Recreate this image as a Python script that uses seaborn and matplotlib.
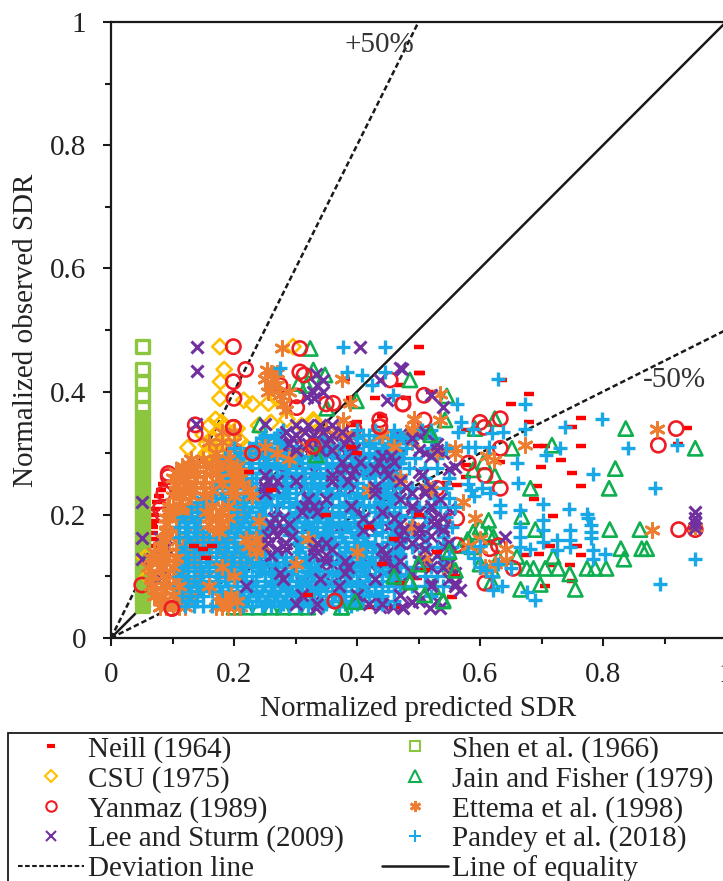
import matplotlib
matplotlib.use("Agg")
import matplotlib.pyplot as plt
from matplotlib.lines import Line2D
from matplotlib.patches import Rectangle
import numpy as np
import pandas as pd
import seaborn as sns

sns.set_theme(style="white")
plt.rcParams['font.family'] = ['Liberation Serif', 'DejaVu Serif']

# Puntos sueltos
neill_x = [.500, .503, .635, .679, .651, .679, .765, .750, .937, .695, .705, .765, .731, .699, .750, .765, .692, .688, .719, .757, .714, .675, .696, .765, .746, .716, .749, .706, .922, .546, .562, .554, .578, .578, .632, .578, .497, .38, .39, .41, .42, .46, .47, .30, .35, .40, .44, .48, .085, .075, .07, .068, .07, .075, .08, .09, .072, .095, .10, .11, .39, .43, .47, .50, .52, .068, .07, .072, .075, .078, .082, .066]
neill_y = [.473, .431, .419, .396, .380, .351, .357, .342, .341, .311, .311, .311, .289, .278, .268, .246, .246, .225, .198, .149, .149, .134, .137, .134, .118, .118, .093, .085, .315, .252, .249, .066, .281, .262, .285, .338, .097, .42, .39, .05, .05, .05, .05, .28, .30, .35, .36, .39, .25, .22, .20, .18, .16, .14, .12, .10, .19, .05, .05, .05, .345, .39, .41, .43, .40, .17, .15, .21, .13, .23, .24, .185]
neill_top_x = [.135, .15, .155, .165, .225, .26, .39, .40, .42, .46, .44, .47, .51, .53, .56, .50, .32, .35]
neill_top_y = [.15, .145, .13, .15, .27, .24, .31, .30, .18, .16, .12, .09, .11, .14, .10, .20, .07, .20]

shen_x = [.0515, .0515, .0515, .0515, .0515]
shen_y = [.473, .436, .416, .393, .374]
shen_rows_y = [.358, .352, .346, .34, .334, .328, .322, .316, .31, .304, .298, .292, .286, .28, .274, .268, .262, .256, .25, .244, .238, .232, .226, .22, .214, .208, .202, .196, .19, .184, .178, .172, .166, .16, .154, .148, .142, .136, .13, .124, .118, .112, .106, .10, .094, .088, .082, .076, .07, .064, .058, .052]
shen_rows_x = [[.0515]] * 52

csu_x = [.177, .184, .178, .177, .216, .230, .256, .269, .125, .177, .286, .329, .172, .296, .155, .165, .175, .185, .16, .17, .18, .19, .20, .21, .22, .23, .19, .21, .055, .06, .24, .26, .31, .33, .15, .16, .17, .18, .155, .165, .175, .19, .205]
csu_y = [.473, .436, .416, .389, .386, .380, .381, .389, .309, .337, .355, .354, .300, .473, .315, .325, .335, .34, .30, .29, .315, .325, .33, .32, .31, .30, .285, .29, .13, .10, .345, .35, .345, .35, .33, .345, .355, .35, .30, .31, .30, .31, .34]

jain_x = [.486, .546, .543, .519, .592, .624, .652, .717, .837, .950, .820, .810, .682, .606, .589, .624, .811, .860, .690, .668, .829, .863, .871, .834, .676, .687, .706, .727, .746, .774, .787, .805, .719, .698, .666, .755, .614, .614, .589, .622, .660, .540, .484, .524, .587, .619, .324, .305, .318, .329, .348, .399, .351, .242, .334, .486, .397, .375, .410, .104, .20, .22, .24, .26, .28, .30, .32, .55, .57, .60, .63, .60, .58, .62]
jain_y = [.419, .393, .354, .335, .340, .356, .308, .313, .340, .308, .275, .243, .243, .286, .273, .264, .176, .176, .176, .197, .145, .145, .145, .128, .113, .113, .113, .113, .104, .113, .113, .113, .132, .087, .079, .079, .191, .170, .172, .164, .132, .062, .094, .083, .148, .091, .470, .413, .410, .435, .427, .385, .373, .346, .297, .091, .059, .050, .078, .070, .05, .05, .05, .05, .05, .05, .05, .12, .15, .18, .13, .12, .16, .11]
jain_top_x = [.486, .397, .375, .51, .54, .55, .46, .56, .52, .334, .50]
jain_top_y = [.091, .059, .05, .07, .06, .14, .10, .11, .33, .297, .12]

yanmaz_x = [.199, .307, .219, .199, .307, .314, .200, .275, .302, .302, .361, .474, .454, .137, .137, .199, .437, .437, .093, .093, .086, .329, .199, .050, .099, .364, .509, .475, .633, .607, .509, .633, .581, .608, .633, .530, .562, .562, .654, .608, .890, .919, .923, .950, .616, .08, .085, .255, .30, .35, .47, .60, .63, .26, .395]
yanmaz_y = [.473, .470, .436, .416, .432, .427, .389, .410, .393, .374, .381, .380, .419, .346, .331, .342, .354, .343, .267, .262, .235, .311, .302, .086, .048, .060, .394, .380, .356, .342, .354, .308, .284, .264, .243, .243, .194, .151, .113, .089, .313, .340, .176, .176, .145, .21, .20, .30, .31, .38, .31, .35, .15, .29, .34]
yanmaz_top_x = [.329, .199, .437, .364, .099, .23]
yanmaz_top_y = [.311, .342, .343, .060, .048, .30]

ettema_x = [.887, .673, .879, .950, .535, .492, .535, .559, .622, .573, .516, .592, .600, .643, .643, .608, .549, .278, .253, .26, .265, .27, .275, .28, .26, .25, .255, .27, .285, .29, .375, .389, .492, .378, .248, .612, .56, .61, .625, .60, .58]
ettema_y = [.340, .313, .176, .18, .396, .356, .354, .308, .289, .221, .243, .194, .145, .145, .126, .116, .110, .470, .435, .43, .42, .41, .395, .38, .41, .42, .40, .43, .37, .40, .421, .381, .356, .354, .310, .295, .30, .11, .12, .16, .15]

# Nube de Ettema: una lista de x por cada fila de y
ettema_rows_y = [.05, .068, .086, .104, .122, .14, .158, .176, .194, .212, .23, .248, .266, .282, .30, .318, .335]
ettema_rows_x = [
    [.08, .09, .10, .11, .12, .17, .18, .19, .20, .21],
    [.07, .085, .10, .115, .13, .175, .19, .205],
    [.07, .085, .10, .115, .13, .15],
    [.075, .09, .105, .12, .14, .16, .19],
    [.075, .09, .105, .12, .135, .17, .20, .22],
    [.08, .095, .11, .125, .14, .155, .18, .21, .235],
    [.09, .105, .12, .14, .155, .17, .19, .225],
    [.09, .105, .125, .145, .16, .175, .19, .205, .24],
    [.09, .105, .12, .14, .16, .175, .19, .20, .215],
    [.095, .11, .125, .145, .165, .18, .195, .21],
    [.10, .115, .13, .15, .165, .18, .195, .205],
    [.105, .12, .135, .15, .165, .18, .195],
    [.11, .125, .14, .155, .17, .185],
    [.125, .14, .155, .175, .19],
    [.17, .19, .21, .23, .25, .27, .30, .36],
    [.16, .18, .20, .25, .35, .38, .42, .49],
    [.18, .20, .37, .49],
]

# Manchas naranjas que se ven encima del azul
ettema_top_rows_y = [.29, .28, .27, .26, .25, .24, .23, .215, .205, .195, .185, .172, .16, .15, .14, .13, .115, .10, .085, .07, .06, .05]
ettema_top_rows_x = [
    [.13, .15, .17, .19],
    [.115, .13, .165, .19, .205],
    [.105, .125, .17, .195, .21],
    [.10, .12, .175, .20],
    [.105, .125, .18, .205, .215],
    [.105, .12, .135, .165, .195, .225],
    [.11, .13, .155, .20, .23],
    [.10, .115, .165, .19],
    [.095, .155, .18],
    [.095, .17, .19],
    [.09, .16, .18],
    [.09, .175],
    [.085, .22, .235],
    [.08, .225, .245],
    [.07, .09, .235],
    [.065, .085, .105],
    [.06, .08, .10, .18],
    [.065, .085, .20],
    [.065, .09, .11, .16],
    [.075, .10, .195],
    [.08, .185, .205],
    [.09, .19],
]
ettema_top_x = [.30, .24, .32, .40, .42, .47, .49, .52, .51, .55, .46, .53, .44, .49, .35, .38, .27, .25, .29, .32]
ettema_top_y = [.12, .19, .16, .14, .24, .26, .18, .24, .13, .11, .31, .30, .33, .34, .34, .33, .30, .31, .29, .31]

lee_x = [.140, .140, .139, .405, .051, .050, .050, .080, .088, .081, .470, .333, .345, .335, .329, .318, .448, .437, .25, .489, .437, .459, .473, .334, .473, .521, .540, .950, .950, .950, .950, .519, .535, .475, .641, .559, .568, .345, .33]
lee_y = [.472, .433, .348, .473, .221, .162, .129, .162, .148, .099, .438, .429, .419, .410, .400, .392, .386, .419, .348, .059, .050, .051, .051, .048, .436, .394, .375, .205, .194, .186, .178, .048, .048, .048, .164, .278, .078, .40, .39]

# Nube de Lee y Sturm
lee_rows_y = [.06, .09, .12, .15, .18, .21, .24, .27, .30, .33]
lee_rows_x = [
    [.33, .40, .44, .50, .53],
    [.27, .31, .36, .41, .47, .52, .56],
    [.25, .29, .34, .36, .42, .46, .51, .55],
    [.25, .28, .33, .35, .41, .46, .50, .54],
    [.25, .28, .32, .37, .42, .45, .50, .54],
    [.27, .31, .35, .40, .44, .49, .52, .55],
    [.25, .31, .37, .39, .43, .46, .51],
    [.28, .33, .37, .41, .43, .46, .50],
    [.25, .29, .32, .35, .38, .44, .47, .51, .54],
    [.28, .30, .33, .36, .39, .47, .50],
]

# Manchas moradas que se ven encima del azul
lee_top_rows_y = [.345, .335, .325, .315, .305, .295, .285, .275, .265, .255, .245, .235, .225, .215, .205, .195, .185, .175, .165, .155, .145, .135, .125, .115, .105, .095, .085, .07, .055]
lee_top_rows_x = [
    [.30, .32, .34, .36],
    [.285, .315, .345, .375, .51],
    [.295, .325, .355, .385, .49],
    [.29, .32, .35, .38, .53],
    [.30, .34, .36, .395, .50, .53],
    [.44, .455, .52],
    [.375, .405, .435, .46],
    [.38, .395, .43, .445, .55],
    [.36, .39, .45, .25, .505],
    [.255, .27, .30, .36, .385, .47],
    [.25, .265, .43, .48, .52],
    [.25, .43, .49, .51],
    [.32, .35, .47, .535],
    [.315, .33, .39, .49, .52],
    [.31, .335, .44, .50],
    [.265, .28, .41, .46, .525, .54],
    [.26, .29, .42, .47, .525],
    [.265, .28, .41, .475, .50, .54],
    [.255, .27, .295, .47, .50, .52],
    [.255, .285, .335, .35, .47, .49, .55],
    [.27, .285, .33, .36, .44, .51],
    [.26, .33, .35, .445, .53],
    [.35, .38, .445, .47, .50],
    [.385, .46, .52, .54],
    [.275, .38, .49, .56],
    [.28, .34, .43, .55],
    [.22, .37, .52, .56],
    [.31, .40, .47, .50],
    [.30, .335, .42, .44],
]

pandey_x = [.630, .673, .562, .798, .739, .673, .569, .565, .589, .638, .619, .841, .920, .730, .708, .660, .783, .661, .885, .616, .603, .702, .745, .665, .633, .633, .774, .776, .781, .781, .781, .783, .783, .803, .746, .746, .746, .702, .702, .702, .665, .665, .665, .681, .725, .725, .950, .893, .689, .676, .635, .621, .592, .614, .581, .378, .445, .275, .383, .408, .445, .424, .459, .58, .585, .59, .60, .61, .62, .63, .59, .58, .60, .65]
pandey_y = [.420, .380, .380, .356, .342, .340, .351, .335, .340, .335, .332, .308, .313, .308, .297, .284, .266, .252, .243, .235, .243, .217, .209, .208, .216, .205, .202, .194, .183, .172, .162, .143, .129, .136, .175, .159, .148, .191, .175, .156, .181, .164, .148, .145, .159, .143, .129, .087, .062, .075, .085, .078, .31, .31, .31, .473, .472, .438, .432, .427, .432, .410, .394, .25, .24, .23, .115, .11, .10, .12, .13, .14, .15, .113]

# Nube de Pandey
pandey_rows_y = [.052, .06, .068, .076, .084, .092, .10, .108, .116, .124, .132, .14, .148, .156, .164, .172, .18, .188, .196, .204, .212, .22, .228, .236, .244, .252, .26, .268, .276, .284, .292, .30, .308, .316, .324, .33, .338]
pandey_rows_x = [
    [.12, .135, .15, .165, .215, .23, .245, .26, .275, .29, .305, .32, .345, .37, .39],
    [.125, .14, .22, .235, .25, .265, .28, .295, .31, .325, .34, .36, .375, .39, .41, .43, .46],
    [.115, .13, .15, .21, .225, .24, .255, .27, .285, .30, .315, .35, .365, .38, .42, .44, .52],
    [.115, .13, .145, .165, .18, .195, .215, .23, .245, .26, .275, .29, .305, .325, .34, .36, .38, .40, .415, .44, .46],
    [.11, .125, .14, .16, .175, .19, .205, .22, .235, .25, .265, .285, .30, .32, .335, .35, .37, .39, .41, .43, .45, .47, .49, .51, .54],
    [.12, .135, .15, .17, .185, .20, .215, .23, .25, .27, .29, .305, .325, .34, .36, .38, .40, .42, .44, .465],
    [.11, .125, .145, .16, .175, .205, .22, .235, .265, .28, .315, .33, .345, .37, .385, .415, .43, .455, .47, .51, .53, .55],
    [.115, .135, .15, .17, .185, .20, .215, .24, .26, .28, .30, .32, .335, .36, .375, .39, .405, .44, .46],
    [.11, .125, .145, .16, .18, .195, .21, .23, .245, .27, .285, .31, .325, .38, .395, .41, .435, .45, .48, .495, .52, .54],
    [.12, .135, .155, .17, .185, .20, .22, .235, .25, .28, .295, .32, .37, .385, .40, .42, .445, .46],
    [.125, .145, .16, .18, .195, .21, .225, .24, .27, .285, .30, .315, .375, .39, .41, .425, .455, .47, .50, .535, .55],
    [.115, .135, .15, .17, .185, .20, .215, .23, .305, .38, .395, .415, .435, .465],
    [.12, .14, .16, .175, .19, .205, .22, .235, .31, .37, .385, .40, .425, .44, .475, .49, .515, .53, .555],
    [.13, .15, .17, .185, .20, .215, .23, .24, .305, .32, .365, .38, .395, .415, .45, .47],
    [.11, .125, .14, .16, .18, .20, .215, .23, .245, .31, .325, .345, .36, .375, .41, .455, .48, .495, .51, .54],
    [.12, .135, .15, .19, .205, .22, .235, .25, .30, .32, .335, .355, .37, .39, .405, .44, .47],
    [.11, .125, .14, .195, .21, .225, .24, .295, .31, .325, .345, .36, .385, .40, .43, .465, .485, .515, .53, .555],
    [.12, .135, .20, .215, .23, .245, .30, .315, .335, .35, .37, .395, .415, .44],
    [.115, .13, .145, .205, .22, .235, .29, .305, .32, .34, .355, .37, .395, .435, .47, .49, .51, .545],
    [.14, .20, .225, .24, .30, .315, .335, .345, .36, .38, .39, .43, .46],
    [.13, .15, .19, .215, .23, .245, .29, .31, .325, .34, .37, .385, .42, .45, .47, .50, .515, .535, .56],
    [.14, .16, .20, .22, .235, .25, .28, .30, .315, .335, .35, .38, .40, .435, .46],
    [.155, .17, .185, .205, .22, .24, .255, .28, .29, .32, .33, .36, .395, .41, .44, .455, .485, .525, .55],
    [.165, .18, .20, .215, .23, .245, .285, .30, .335, .35, .37, .40, .43, .45],
    [.17, .19, .205, .22, .235, .28, .29, .325, .34, .355, .38, .41, .445, .47, .49, .525, .545],
    [.18, .20, .215, .23, .285, .30, .315, .33, .35, .37, .40, .43, .45],
    [.19, .205, .22, .235, .28, .295, .31, .325, .34, .375, .39, .42, .455, .47, .51, .55],
    [.185, .20, .215, .23, .25, .285, .30, .315, .33, .35, .41, .44, .46],
    [.195, .21, .225, .24, .255, .27, .29, .31, .35, .38, .40, .415, .44, .455, .485, .51, .53],
    [.195, .215, .23, .25, .265, .28, .30, .32, .335, .35, .37, .39, .41, .43, .45, .47],
    [.185, .205, .225, .24, .255, .27, .285, .305, .34, .37, .395, .41, .43, .455, .475, .495, .53],
    [.21, .235, .25, .265, .28, .34, .36, .39, .41, .43, .45, .47],
    [.20, .225, .24, .255, .27, .335, .35, .37, .40, .43, .44, .465, .48, .52, .545],
    [.235, .255, .275, .40, .42, .44, .46],
    [.245, .265, .345, .40, .435, .455, .475, .49, .525],
    [.25, .27, .41, .42, .44, .47],
    [.28, .40, .43, .46, .505, .52],
]
# Huecos que faltaban por cubrir en la parte central
pandey_fill_rows_y = [.056, .072, .088, .104, .12, .136, .152, .168, .184, .20, .216, .232, .248, .264, .28, .296, .312]
pandey_fill_rows_x = [
    [.20, .25, .28, .31, .35, .38, .40, .44],
    [.205, .235, .265, .295, .33, .37, .40, .43],
    [.23, .26, .28, .31, .345, .38, .40, .43, .46],
    [.21, .25, .27, .295, .33, .36, .39, .42, .45, .47],
    [.24, .265, .31, .34, .36, .39, .41, .43, .47],
    [.25, .265, .33, .36, .37, .405, .44, .45, .47],
    [.30, .33, .35, .36, .41, .43, .46],
    [.29, .33, .35, .40, .43, .46],
    [.26, .29, .32, .36, .38, .41, .43, .46],
    [.25, .27, .29, .33, .37, .41, .44, .45, .47],
    [.26, .27, .30, .35, .37, .41, .43, .45],
    [.26, .27, .32, .36, .38, .41, .44, .46],
    [.27, .31, .34, .38, .42, .44, .46],
    [.26, .27, .30, .34, .36, .40, .43, .45, .47],
    [.25, .27, .29, .33, .36, .38, .40, .42, .44, .46],
    [.25, .29, .31, .33, .35, .37, .40, .42, .44, .46],
    [.28, .30, .32, .34, .36, .38, .42, .45],
]


def tabla(x, y, rows_y=(), rows_x=()):
    xs = list(x)
    ys = list(y)
    for fila_y, fila_x in zip(rows_y, rows_x):
        xs += list(fila_x)
        ys += [fila_y] * len(fila_x)
    return pd.DataFrame({'pred': xs, 'obs': ys})


line_x = [0, 1]
equal_y = [0, 1]
plus_x = [0, .5]
plus_y = [0, 1]
minus_y = [0, .5]

RED = '#FF0000'
YELLOW = '#FFC000'
GREEN_L = '#8CC63F'
GREEN = '#0FAF50'
RING = '#EE1C25'
ORANGE = '#ED7D31'
PURPLE = '#7030A0'
BLUE = '#18A8E8'
FS = 21

fig = plt.figure(figsize=(7.23, 8.81), dpi=100)
ax = fig.add_axes([111 / 723, (881 - 638) / 881, 615 / 723, 616 / 881])

sns.lineplot(x=plus_x, y=plus_y, ax=ax, color='k', lw=1.8, ls=(0, (2.2, 1.2)), zorder=1)
sns.lineplot(x=line_x, y=minus_y, ax=ax, color='k', lw=1.8, ls=(0, (2.2, 1.2)), zorder=1)
sns.lineplot(x=line_x, y=equal_y, ax=ax, color='k', lw=1.8, zorder=1)

hollow = dict(facecolor='none', s=105, linewidth=1.9, zorder=2)
estrella = dict(x='pred', y='obs', ax=ax, marker=(6, 2, 0), s=105, linewidth=2.0, color=ORANGE, zorder=2)
cruz = dict(x='pred', y='obs', ax=ax, marker='x', s=75, linewidth=2.2, color=PURPLE, zorder=2)
raya = dict(x='pred', y='obs', ax=ax, marker='_', s=55, linewidth=3.2, color=RED, zorder=2)
triangulo = dict(x='pred', y='obs', ax=ax, marker='^', edgecolor=GREEN, color=GREEN, **hollow)
aro = dict(x='pred', y='obs', ax=ax, marker='o', edgecolor=RING, color=RING, **hollow)
mas = dict(x='pred', y='obs', ax=ax, marker='+', s=90, linewidth=2.4, color=BLUE, zorder=2)

sns.scatterplot(data=tabla(neill_x, neill_y), **raya)
sns.scatterplot(data=tabla(shen_x, shen_y), x='pred', y='obs', ax=ax, marker='s', edgecolor=GREEN_L, color=GREEN_L, **{**hollow, 's': 85, 'linewidth': 2.4})
sns.scatterplot(data=tabla([], [], shen_rows_y, shen_rows_x), x='pred', y='obs', ax=ax, marker='s', edgecolor=GREEN_L, color=GREEN_L, **{**hollow, 's': 72, 'linewidth': 3.0})
sns.scatterplot(data=tabla(csu_x, csu_y), x='pred', y='obs', ax=ax, marker='D', edgecolor=YELLOW, color=YELLOW, **{**hollow, 's': 60})
sns.scatterplot(data=tabla(jain_x, jain_y), **triangulo)
sns.scatterplot(data=tabla(yanmaz_x, yanmaz_y), **aro)
sns.scatterplot(data=tabla(ettema_x, ettema_y, ettema_rows_y, ettema_rows_x), **estrella)
sns.scatterplot(data=tabla(lee_x, lee_y, lee_rows_y, lee_rows_x), **cruz)
sns.scatterplot(data=tabla(pandey_x, pandey_y, pandey_rows_y, pandey_rows_x), **mas)
sns.scatterplot(data=tabla([], [], pandey_fill_rows_y, pandey_fill_rows_x), **mas)
# lo que asoma por encima del azul
sns.scatterplot(data=tabla(ettema_top_x, ettema_top_y, ettema_top_rows_y, ettema_top_rows_x), **estrella)
sns.scatterplot(data=tabla([], [], lee_top_rows_y, lee_top_rows_x), **cruz)
sns.scatterplot(data=tabla(neill_top_x, neill_top_y), **raya)
sns.scatterplot(data=tabla(jain_top_x, jain_top_y), **triangulo)
sns.scatterplot(data=tabla(yanmaz_top_x, yanmaz_top_y), **aro)

ax.set_xlim(0, 1)
ax.set_ylim(0, 1)
ax.set_xticks(np.arange(0, 1.01, .2))
ax.set_xticklabels(['0', '0.2', '0.4', '0.6', '0.8', '1'])
ax.set_yticks(np.arange(0, 1.01, .2))
ax.set_yticklabels(['0', '0.2', '0.4', '0.6', '0.8', '1'])
ax.set_xticks(np.arange(.1, 1, .2), minor=True)
ax.set_yticks(np.arange(.1, 1, .2), minor=True)
ax.tick_params(axis='x', which='major', direction='out', length=6, width=1.5, labelsize=FS, color='k', labelcolor='#222222', bottom=True, pad=11)
ax.tick_params(axis='y', which='major', direction='out', length=6, width=1.5, labelsize=FS, color='k', labelcolor='#222222', left=True, pad=12)
ax.tick_params(axis='both', which='minor', direction='out', length=4.3, width=1.5, left=True, bottom=True, color='k')
for lado in ['left', 'top', 'bottom']:
    ax.spines[lado].set_visible(True)
    ax.spines[lado].set_linewidth(1.6)
    ax.spines[lado].set_color('k')
ax.spines['right'].set_visible(False)
ax.grid(False)
ax.set_xlabel('Normalized predicted SDR', fontsize=FS, color='#222222', labelpad=6)
ax.set_ylabel('Normalized observed SDR', fontsize=FS, color='#222222', labelpad=8)
ax.text(.38, .962, '+50%', fontsize=FS, color='#333333', va='center')
ax.text(.865, .419, '-50%', fontsize=FS, color='#333333', va='center')


def marca(m, color, s, hueco=True, mew=1.5):
    return Line2D([], [], ls='none', marker=m, color=color, mfc='none' if hueco else color, ms=s, mew=mew)


handles = [
    marca('_', RED, 6, mew=3), marca('D', YELLOW, 6), marca('o', RING, 7.5), marca('x', PURPLE, 7.5),
    Line2D([], [], color='k', lw=1.5, ls=(0, (2.2, 1.2))),
    marca('s', GREEN_L, 7.5), marca('^', GREEN, 8), marca((6, 2, 0), ORANGE, 8, mew=2), marca('+', BLUE, 8),
    Line2D([], [], color='k', lw=1.8),
]
labels = ['Neill (1964)', 'CSU (1975)', 'Yanmaz (1989)', 'Lee and Sturm (2009)', 'Deviation line',
          'Shen et al. (1966)', 'Jain and Fisher (1979)', 'Ettema et al. (1998)', 'Pandey et al. (2018)', 'Line of equality']
fig.add_artist(Rectangle((8 / 723, -.02), 1, 1 - 733 / 881 + .02, transform=fig.transFigure,
                         facecolor='white', edgecolor='k', lw=1.3))
fig.legend(handles, labels, ncol=2, loc='upper left', bbox_to_anchor=(18 / 723, 1 - 736 / 881),
           fontsize=FS, frameon=False, handlelength=2.26, handletextpad=.14, columnspacing=1.3,
           labelspacing=.1, borderpad=0, borderaxespad=0, labelcolor='#222222')

fig.savefig('out.png', dpi=100)
